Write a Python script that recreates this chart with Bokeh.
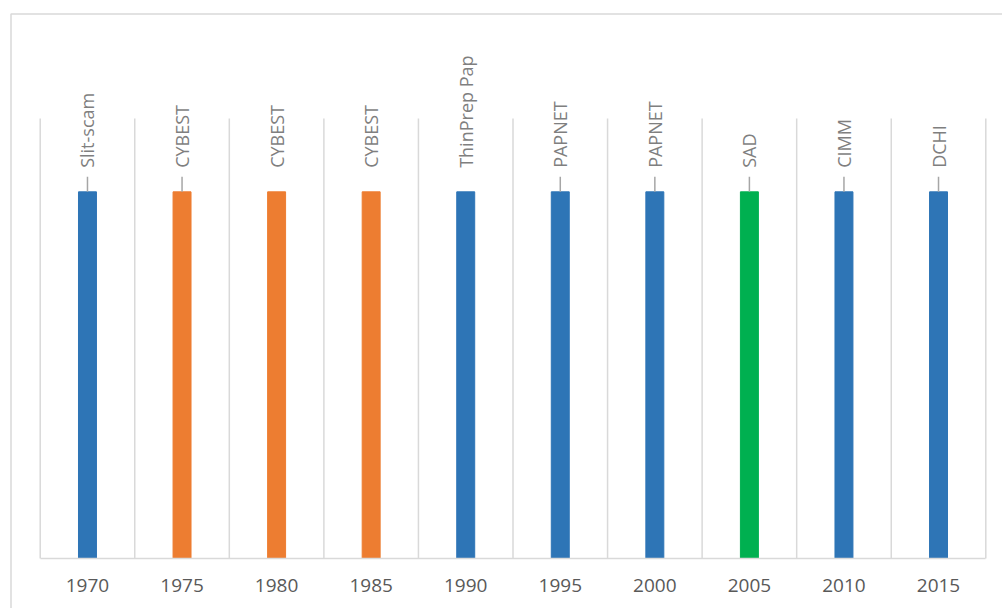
import math
from bokeh.plotting import figure
from bokeh.models import ColumnDataSource, LabelSet, FixedTicker, Range1d
from bokeh.embed import file_html
from bokeh.resources import INLINE
from bokeh.core.properties import value

# ---- data ----
years = [1970, 1975, 1980, 1985, 1990, 1995, 2000, 2005, 2010, 2015]
systems = ["Slit-scam", "CYBEST", "CYBEST", "CYBEST", "ThinPrep Pap",
           "PAPNET", "PAPNET", "SAD", "CIMM", "DCHI"]
heights = [1, 1, 1, 1, 1, 1, 1, 1, 1, 1]
colors = ["#2E75B6", "#ED7D31", "#ED7D31", "#ED7D31", "#2E75B6",
          "#2E75B6", "#2E75B6", "#00B050", "#2E75B6", "#2E75B6"]
has_leader = [True, True, False, False, False, True, True, True, True, True]

# ---- layout / style (pixel geometry of the plot area inside the 1002x608 canvas) ----
W, H = 1002, 608
Y_MAX = 1.2
HALF = 2.5
PA_LEFT, PA_RIGHT, PA_TOP, PA_BOTTOM = 39.7, 985.3, 118.0, 558.0
x_lo, x_hi = years[0] - HALF, years[-1] + HALF
px_per_x = (PA_RIGHT - PA_LEFT) / (x_hi - x_lo)
px_per_y = (PA_BOTTOM - PA_TOP) / Y_MAX
x_start = x_lo - PA_LEFT / px_per_x
x_end = x_hi + (W - PA_RIGHT) / px_per_x
y_start = -(H - PA_BOTTOM) / px_per_y
y_end = Y_MAX + PA_TOP / px_per_y
leader_len = 15 / px_per_y
TEXT = "#595959"
LABEL = "#7f7f7f"
GRID = "#d9d9d9"

p = figure(width=W, height=H, x_range=Range1d(x_start, x_end), y_range=Range1d(y_start, y_end),
           output_backend="svg", toolbar_location=None,
           min_border_left=0, min_border_right=0, min_border_top=0, min_border_bottom=0)
p.outline_line_color = None
p.yaxis.visible = False
p.ygrid.visible = False
p.xgrid.visible = False
p.background_fill_color = "white"
p.border_fill_color = "white"

# vertical category separators
boundaries = [y - HALF for y in years] + [years[-1] + HALF]
p.segment(x0=boundaries, y0=[0] * len(boundaries), x1=boundaries, y1=[Y_MAX] * len(boundaries),
          line_color=GRID, line_width=1.5)

# x axis drawn at y = 0 inside the canvas
p.xaxis.fixed_location = 0
p.xaxis.bounds = (x_lo, x_hi)
p.xaxis.ticker = FixedTicker(ticks=years)
p.xaxis.axis_line_color = GRID
p.xaxis.axis_line_width = 1.5
p.xaxis.major_tick_line_color = None
p.xaxis.minor_tick_line_color = None
p.xaxis.major_label_standoff = 14
p.xaxis.major_label_text_font = "Open Sans"
p.xaxis.major_label_text_font_size = "19px"
p.xaxis.major_label_text_color = TEXT

src = ColumnDataSource(dict(year=years, height=heights, system=systems, color=colors))
p.vbar(x="year", top="height", width=0.95, color="color", source=src)

lx = [y for y, h in zip(years, has_leader) if h]
ly0 = [v for v, h in zip(heights, has_leader) if h]
ly1 = [v + leader_len for v in ly0]
p.segment(x0=lx, y0=ly0, x1=lx, y1=ly1, line_color="#a6a6a6", line_width=1.5)

labels = LabelSet(x="year", y="height", text="system", source=src,
                  angle=math.pi / 2, text_align="left", text_baseline="middle",
                  y_offset=24, text_font=value("Open Sans"), text_font_size="18px",
                  text_color=LABEL)
p.add_layout(labels)

# outer chart border: left and top edges (right and bottom lie outside the window)
bx = x_start + 10.5 / px_per_x
by = y_end - 13.5 / px_per_y
p.line(x=[bx, bx, x_end + 5], y=[y_start - 5, by, by], line_color=GRID, line_width=1.5)

open("out.html", "w").write(file_html(p, INLINE))
